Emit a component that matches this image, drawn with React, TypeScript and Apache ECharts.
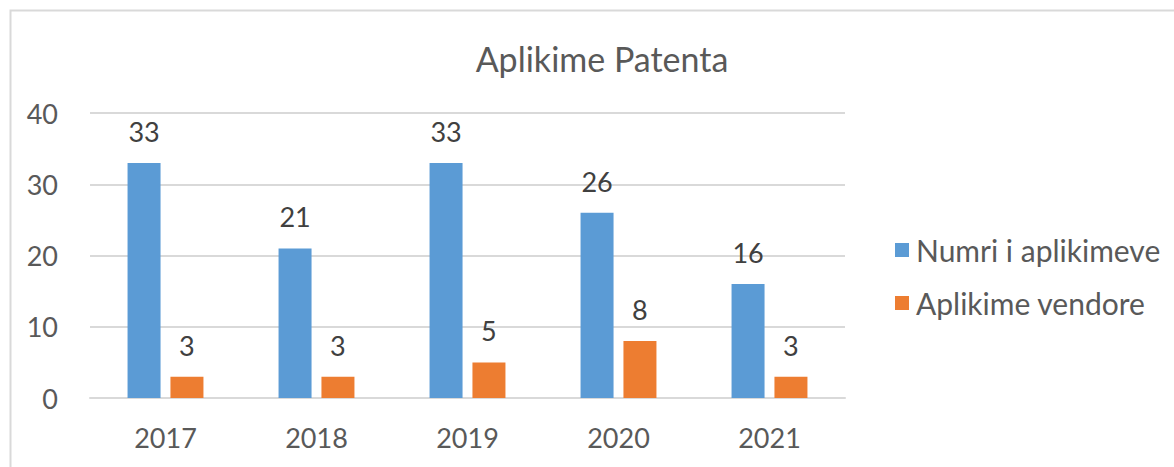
import React, { useEffect, useRef } from "react";
import * as echarts from "echarts";

const categories = ["2017", "2018", "2019", "2020", "2021"];
const numriAplikimeve = [33, 21, 33, 26, 16];
const aplikimeVendore = [3, 3, 5, 8, 3];
const seriesNames = ["Numri i aplikimeve", "Aplikime vendore"];
const titleText = "Aplikime Patenta";

const FONT = "Lato, 'Open Sans', sans-serif";

export default function App() {
  const ref = useRef<HTMLDivElement>(null);
  useEffect(() => {
    document.body.style.margin = "0";
    const chart = echarts.init(ref.current!, null, { renderer: "svg" });
    chart.setOption({
      animation: false,
      backgroundColor: "#ffffff",
      textStyle: { fontFamily: FONT },
      title: {
        text: titleText,
        left: 597,
        textAlign: "center",
        top: 36,
        textStyle: { fontFamily: FONT, fontSize: 34, fontWeight: "normal", color: "#595959" },
      },
      graphic: [
        {
          type: "rect",
          shape: { x: 10.5, y: 10.5, width: 1200, height: 500 },
          style: { fill: "none", stroke: "#d9d9d9", lineWidth: 2 },
          silent: true,
        },
      ],
      legend: {
        orient: "vertical",
        left: 890,
        top: 230,
        itemWidth: 14,
        itemHeight: 14,
        itemGap: 23,
        icon: "rect",
        textStyle: { fontFamily: FONT, fontSize: 30, color: "#595959", padding: [0, 0, 0, 2] },
        data: seriesNames,
      },
      grid: { left: 90, right: 329, top: 113, bottom: 69 },
      xAxis: {
        type: "category",
        data: categories,
        axisLine: { lineStyle: { color: "#d9d9d9", width: 2 } },
        axisTick: { show: false },
        axisLabel: { fontFamily: FONT, fontSize: 27, color: "#595959", margin: 26 },
      },
      yAxis: {
        type: "value",
        min: 0,
        max: 40,
        interval: 10,
        axisLine: { show: false },
        axisTick: { show: false },
        splitLine: { lineStyle: { color: "#d9d9d9", width: 2 } },
        axisLabel: { fontFamily: FONT, fontSize: 27, color: "#595959", margin: 32 },
      },
      series: [
        {
          name: seriesNames[0],
          type: "bar",
          data: numriAplikimeve,
          barWidth: 33,
          barGap: "30%",
          itemStyle: { color: "#5b9bd5" },
          label: { show: true, position: "top", distance: 18, fontFamily: FONT, fontSize: 27, color: "#404040" },
        },
        {
          name: seriesNames[1],
          type: "bar",
          data: aplikimeVendore,
          barWidth: 33,
          itemStyle: { color: "#ed7d31" },
          label: { show: true, position: "top", distance: 18, fontFamily: FONT, fontSize: 27, color: "#404040" },
        },
      ],
    });
    return () => chart.dispose();
  }, []);
  return <div ref={ref} style={{ width: 1174, height: 467 }} />;
}
